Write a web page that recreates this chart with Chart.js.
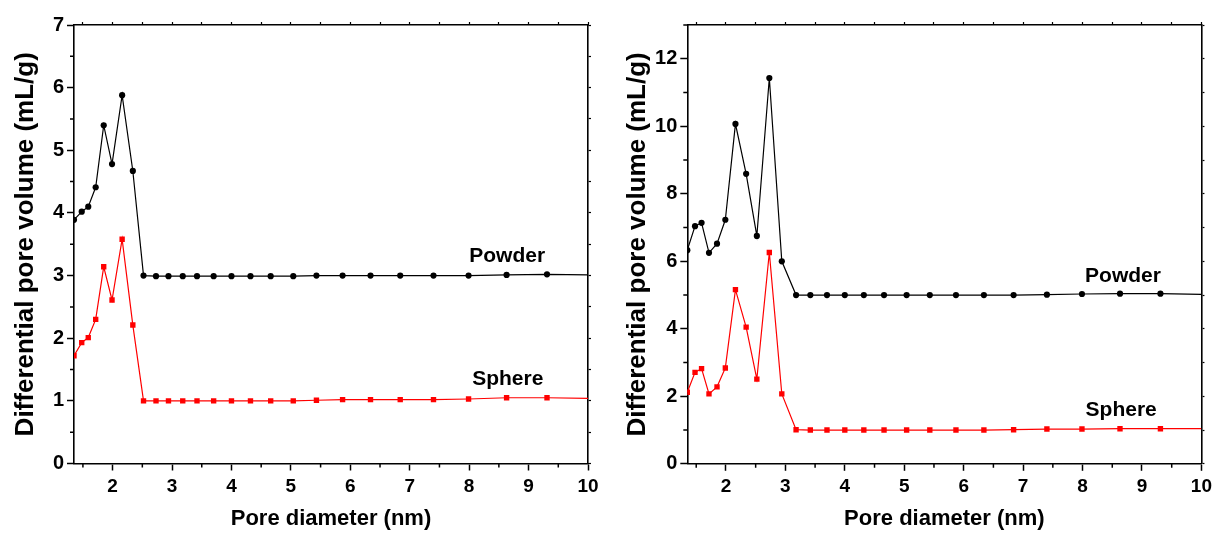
<!DOCTYPE html>
<html>
<head>
<meta charset="utf-8">
<script src="https://cdn.jsdelivr.net/npm/chart.js@4.4.1/dist/chart.umd.min.js"></script>
<style>
  html, body { margin: 0; padding: 0; background: #fff; }
  #wrap { position: relative; width: 1217px; height: 536px; overflow: hidden; }
  .panel { position: absolute; top: 0; height: 536px; }
</style>
</head>
<body>
<div id="wrap">
  <div class="panel" style="left:0;width:608px;"><canvas id="c1"></canvas></div>
  <div class="panel" style="left:608px;width:609px;"><canvas id="c2"></canvas></div>
</div>
<script>
// ---------------- DATA ----------------
const poreDiameter = [1.35, 1.48, 1.59, 1.715, 1.85, 1.99, 2.16, 2.34, 2.52, 2.73, 2.94, 3.18, 3.42, 3.70, 4.00, 4.32, 4.66, 5.04, 5.43, 5.87, 6.34, 6.84, 7.40, 7.99, 8.63, 9.31, 10.0];

const leftPowder = [3.89, 4.02, 4.10, 4.41, 5.40, 4.78, 5.88, 4.67, 3.00, 2.99, 2.99, 2.99, 2.99, 2.99, 2.99, 2.99, 2.99, 2.99, 3.00, 3.00, 3.00, 3.00, 3.00, 3.00, 3.01, 3.02, 3.01];
const leftSphere = [1.72, 1.93, 2.01, 2.30, 3.14, 2.61, 3.58, 2.21, 1.00, 1.00, 1.00, 1.00, 1.00, 1.00, 1.00, 1.00, 1.00, 1.00, 1.01, 1.02, 1.02, 1.02, 1.02, 1.03, 1.05, 1.05, 1.04];

const rightPowder = [6.33, 7.04, 7.14, 6.25, 6.52, 7.23, 10.07, 8.59, 6.75, 11.43, 6.00, 5.00, 5.00, 5.00, 5.00, 5.00, 5.00, 5.00, 5.00, 5.00, 5.00, 5.00, 5.01, 5.03, 5.04, 5.04, 5.02];
const rightSphere = [2.12, 2.71, 2.82, 2.07, 2.28, 2.84, 5.16, 4.05, 2.51, 6.26, 2.07, 1.01, 1.00, 1.00, 1.00, 1.00, 1.00, 1.00, 1.00, 1.00, 1.00, 1.01, 1.03, 1.03, 1.04, 1.04, 1.04];

const seriesNames = ['Powder', 'Sphere'];

const xMajorTicks = [2, 3, 4, 5, 6, 7, 8, 9, 10];
const xMinorTicks = [1.5, 2.5, 3.5, 4.5, 5.5, 6.5, 7.5, 8.5, 9.5];
const leftYMajorTicks = [0, 1, 2, 3, 4, 5, 6, 7];
const leftYMinorTicks = [0.5, 1.5, 2.5, 3.5, 4.5, 5.5, 6.5];
const rightYMajorTicks = [0, 2, 4, 6, 8, 10, 12];
const rightYMinorTicks = [1, 3, 5, 7, 9, 11, 13];

const xTitle = 'Pore diameter (nm)';
const yTitle = 'Differential pore volume (mL/g)';
// ---------------------------------------

const FAMILY = '"Liberation Sans", Arial, Helvetica, sans-serif';
const AXIS_W = 1.6;

function toPoints(ys) { return poreDiameter.map((x, i) => ({ x: x, y: ys[i] })); }

const minorTickPlugin = {
  id: 'minorTicks',
  afterDraw(chart, args, opts) {
    const ctx = chart.ctx;
    const xs = chart.scales.x, ys = chart.scales.y;
    const area = chart.chartArea;
    ctx.save();
    ctx.strokeStyle = '#000';
    ctx.lineWidth = 1.5;
    ctx.beginPath();
    (opts.xMinor || []).forEach(v => {
      const px = xs.getPixelForValue(v);
      ctx.moveTo(px, area.bottom); ctx.lineTo(px, area.bottom + 4);
    });
    (opts.yMinor || []).forEach(v => {
      const py = ys.getPixelForValue(v);
      ctx.moveTo(area.left, py); ctx.lineTo(area.left - 4, py);
    });
    ctx.stroke();
    ctx.restore();
  }
};

const seriesLabelPlugin = {
  id: 'seriesLabels',
  afterDatasetsDraw(chart, args, opts) {
    const ctx = chart.ctx;
    const xs = chart.scales.x, ys = chart.scales.y;
    ctx.save();
    ctx.fillStyle = '#000';
    ctx.font = 'bold 21px ' + FAMILY;
    ctx.textAlign = 'center';
    ctx.textBaseline = 'middle';
    (opts.items || []).forEach(it => {
      ctx.fillText(it.text, xs.getPixelForValue(it.x), ys.getPixelForValue(it.y));
    });
    ctx.restore();
  }
};

function makeChart(id, cfg) {
  const lastIdx = poreDiameter.length - 1;
  const radius = (r) => (c) => (c.dataIndex === lastIdx ? 0 : r);
  return new Chart(document.getElementById(id), {
    type: 'line',
    data: {
      datasets: [
        {
          label: seriesNames[0],
          data: toPoints(cfg.powder),
          borderColor: '#000000',
          backgroundColor: '#000000',
          borderWidth: 1.2,
          pointStyle: 'circle',
          pointRadius: radius(3.1),
          pointBorderWidth: 0,
          tension: 0
        },
        {
          label: seriesNames[1],
          data: toPoints(cfg.sphere),
          borderColor: '#ff0000',
          backgroundColor: '#ff0000',
          borderWidth: 1.2,
          pointStyle: 'rect',
          pointRadius: radius(3.8),
          pointBorderWidth: 0,
          tension: 0
        }
      ]
    },
    options: {
      responsive: true,
      maintainAspectRatio: false,
      animation: false,
      events: [],
      layout: { padding: { top: 21, right: cfg.padRight, left: 0, bottom: 0 } },
      plugins: {
        legend: { display: false },
        tooltip: { enabled: false },
        minorTicks: { xMinor: xMinorTicks, yMinor: cfg.yMinor },
        seriesLabels: { items: cfg.labels }
      },
      scales: {
        x: {
          type: 'linear', position: 'bottom', min: 1.35, max: 10,
          afterBuildTicks: (s) => { s.ticks = xMajorTicks.map(v => ({ value: v })); },
          afterFit: (s) => { s.height = 536 - cfg.bottom; },
          ticks: { color: '#000', font: { family: FAMILY, size: 19, weight: 'bold' }, padding: 5, maxRotation: 0, autoSkip: false },
          grid: { display: true, drawOnChartArea: false, drawTicks: true, tickLength: 7, tickColor: '#000', tickWidth: 1.5 },
          border: { display: true, color: '#000', width: AXIS_W },
          title: { display: true, text: xTitle, color: '#000', font: { family: FAMILY, size: 22, weight: 'bold' }, padding: { top: 0, bottom: 4 } }
        },
        y: {
          type: 'linear', position: 'left', min: 0, max: cfg.yMax,
          afterBuildTicks: (s) => { s.ticks = cfg.yMajor.map(v => ({ value: v })); },
          afterFit: (s) => { s.width = cfg.left; },
          ticks: { color: '#000', font: { family: FAMILY, size: 20, weight: 'bold' }, padding: 3, autoSkip: false },
          grid: { display: true, drawOnChartArea: false, drawTicks: true, tickLength: 7, tickColor: '#000', tickWidth: 1.5 },
          border: { display: true, color: '#000', width: AXIS_W },
          title: { display: true, text: yTitle, color: '#000', font: { family: FAMILY, size: 26, weight: 'bold' }, padding: { top: cfg.yTitlePad, bottom: 0 } }
        },
        x2: {
          type: 'linear', position: 'top', min: 1.35, max: 10,
          afterBuildTicks: (s) => { s.ticks = xMajorTicks.concat(xMinorTicks).map(v => ({ value: v })); },
          afterFit: (s) => { s.height = 4; },
          ticks: { display: false },
          grid: { display: true, drawOnChartArea: false, drawTicks: true, tickLength: 3, tickColor: '#000', tickWidth: 1.2 },
          border: { display: true, color: '#000', width: AXIS_W }
        },
        y2: {
          type: 'linear', position: 'right', min: 0, max: cfg.yMax,
          afterBuildTicks: (s) => { s.ticks = cfg.yMajor.concat(cfg.yMinor).map(v => ({ value: v })); },
          afterFit: (s) => { s.width = 4; },
          ticks: { display: false },
          grid: { display: true, drawOnChartArea: false, drawTicks: true, tickLength: 3, tickColor: '#000', tickWidth: 1.2 },
          border: { display: true, color: '#000', width: AXIS_W }
        }
      }
    },
    plugins: [minorTickPlugin, seriesLabelPlugin]
  });
}

makeChart('c1', {
  powder: leftPowder, sphere: leftSphere,
  yMax: 7, yMajor: leftYMajorTicks, yMinor: leftYMinorTicks,
  left: 74, padRight: 16, bottom: 463.5, yTitlePad: 10,
  labels: [ { text: 'Powder', x: 8.64, y: 3.31 }, { text: 'Sphere', x: 8.65, y: 1.35 } ]
});

makeChart('c2', {
  powder: rightPowder, sphere: rightSphere,
  yMax: 13, yMajor: rightYMajorTicks, yMinor: rightYMinorTicks,
  left: 79.3, padRight: 11, bottom: 463.8, yTitlePad: 14,
  labels: [ { text: 'Powder', x: 8.68, y: 5.55 }, { text: 'Sphere', x: 8.65, y: 1.60 } ]
});
</script>
</body>
</html>
